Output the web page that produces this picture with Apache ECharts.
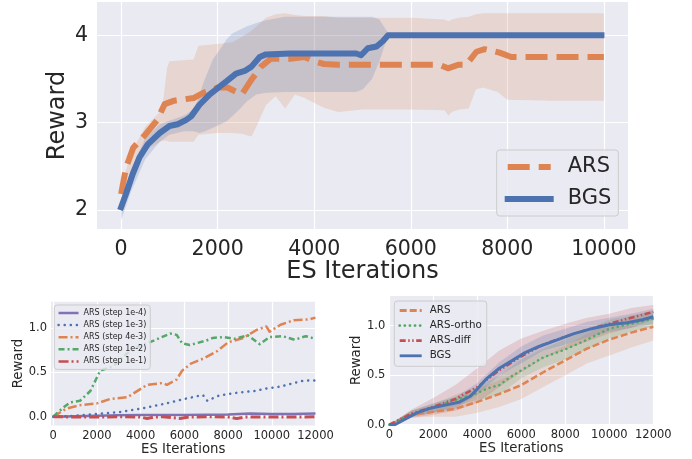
<!DOCTYPE html>
<html>
<head>
<meta charset="utf-8">
<script src="https://cdn.jsdelivr.net/npm/echarts@6/dist/echarts.min.js"></script>
<style>html,body{margin:0;padding:0;background:#fff;}#c{width:692px;height:459px;}</style>
</head>
<body>
<div id="c"></div>
<script>
// ---------- Top chart data ----------
const topXTicks = [0, 2000, 4000, 6000, 8000, 10000];
const topYTicks = [2, 3, 4];
const bgsX = [0,100,240,380,550,800,1000,1170,1350,1450,1620,1830,2040,2180,2380,2560,2700,2870,3000,3500,4000,4500,4870,4970,5110,5290,5420,5530,6000,8000,9950];
const bgsY = [2.03,2.18,2.41,2.60,2.75,2.88,2.96,2.98,3.03,3.07,3.20,3.32,3.41,3.47,3.56,3.59,3.64,3.75,3.78,3.79,3.79,3.79,3.79,3.77,3.85,3.87,3.93,4.00,4.00,4.00,4.00];
const arsX = [0,100,250,500,750,900,1100,1500,1700,2000,2200,2350,2500,2700,2900,3100,3500,3800,4000,4200,4500,5000,6000,6600,6770,6980,7150,7360,7530,7840,8080,9000,10000];
const arsY = [2.18,2.48,2.71,2.86,3.03,3.21,3.25,3.28,3.34,3.40,3.40,3.36,3.32,3.49,3.64,3.73,3.73,3.75,3.70,3.67,3.66,3.66,3.66,3.66,3.62,3.66,3.66,3.81,3.84,3.80,3.75,3.75,3.75];
const arsBandX = [0,200,500,850,950,1000,1500,1600,2000,2300,2500,2700,2800,3000,3200,3400,3600,3800,4200,4500,5000,5500,6000,6700,6780,6850,7000,7200,7350,7500,7800,8000,9000,10000];
const arsLow = [2.10,2.35,2.68,2.79,2.79,2.78,2.78,2.86,2.88,2.88,2.87,2.84,2.95,3.20,3.30,3.16,3.32,3.28,3.17,3.12,3.15,3.15,3.15,3.14,3.08,3.12,3.15,3.16,3.38,3.40,3.35,3.26,3.25,3.25];
const arsHigh = [2.25,2.65,2.95,3.15,3.62,3.70,3.72,3.88,3.90,3.92,3.98,4.05,4.10,4.20,4.24,4.25,4.23,4.22,4.22,4.20,4.20,4.20,4.20,4.18,4.16,4.18,4.20,4.21,4.24,4.25,4.25,4.25,4.25,4.25];
const bgsBandX = [0,200,500,800,1000,1300,1500,1620,1700,1900,2100,2180,2300,2450,2600,2800,3000,3400,4000,4870,5010,5200,5350,5500,5600,9950];
const bgsLow = [1.88,2.20,2.58,2.78,2.86,2.90,2.90,2.88,2.89,2.94,2.99,3.01,3.07,3.15,3.24,3.32,3.34,3.35,3.35,3.35,3.38,3.50,3.70,3.95,4.00,4.00];
const bgsHigh = [2.12,2.45,2.82,2.98,3.02,3.08,3.15,3.30,3.45,3.72,3.88,3.95,4.02,4.06,4.10,4.14,4.17,4.21,4.21,4.21,4.21,4.21,4.18,4.05,4.00,4.00];

// ---------- Bottom-left data ----------
const blXTicks = [0, 2000, 4000, 6000, 8000, 10000, 12000];
const blYTicks = [0, 0.5, 1.0];
const s1e4X = [0,1000,2000,3000,4000,5000,6000,7000,8000,9000,10000,11000,12000];
const s1e4Y = [0,0.005,0.01,0.015,0.02,0.02,0.02,0.022,0.025,0.035,0.03,0.03,0.035];
const s1e3X = [0,1000,2000,3000,4000,5000,6000,6850,7050,7600,8400,9200,9800,10400,11000,11500,12000];
const s1e3Y = [0,0.01,0.03,0.05,0.09,0.14,0.20,0.245,0.18,0.24,0.27,0.29,0.32,0.34,0.38,0.41,0.41];
const s4e3X = [0,600,1200,2000,2600,3400,4300,5000,5200,5650,5900,6300,6900,7500,8000,8700,9300,9750,9900,10400,11000,11700,12000];
const s4e3Y = [0,0.09,0.13,0.15,0.20,0.22,0.36,0.38,0.36,0.42,0.52,0.60,0.66,0.74,0.84,0.89,0.98,1.02,0.96,1.04,1.09,1.10,1.12];
const s1e2X = [0,450,770,1230,1700,2150,2750,3350,3950,4600,5350,5650,5900,6250,7000,7300,7800,8300,8900,9450,9900,10500,11050,11550,12000];
const s1e2Y = [0,0.10,0.16,0.18,0.29,0.52,0.57,0.71,0.80,0.86,0.94,0.925,0.83,0.81,0.86,0.89,0.90,0.88,0.92,0.82,0.90,0.91,0.87,0.91,0.88];
const s1e1X = [0,1000,2000,3000,4000,4300,4600,5000,5800,6200,7000,8000,8400,8800,9500,10500,11500,12000];
const s1e1Y = [0,-0.005,-0.005,0,-0.005,-0.02,-0.005,0,-0.02,-0.005,0,-0.005,-0.02,-0.005,-0.005,-0.005,-0.005,0];

// ---------- Bottom-right data ----------
const brXTicks = [0, 2000, 4000, 6000, 8000, 10000, 12000];
const brYTicks = [0, 0.5, 1.0];
const brX = [0,1000,2000,3000,4000,5000,6000,7000,8000,9000,10000,11000,12000];
const rArsY = [0,0.10,0.13,0.16,0.23,0.31,0.40,0.53,0.65,0.77,0.86,0.93,0.99];
const rArsLow = [0,0.07,0.08,0.08,0.12,0.18,0.26,0.38,0.50,0.62,0.70,0.78,0.85];
const rArsHigh = [0,0.14,0.20,0.27,0.36,0.45,0.55,0.68,0.80,0.92,1.02,1.10,1.15];
const orthoX = [0,1000,2000,3000,4000,4500,5000,5500,6000,7000,8000,9000,10000,11000,12000];
const orthoY = [0,0.11,0.17,0.25,0.32,0.37,0.40,0.48,0.55,0.68,0.76,0.86,0.97,1.02,1.07];
const orthoLow = [0,0.08,0.12,0.19,0.25,0.30,0.47,0.58,0.66,0.76,0.87,0.94,0.99];
const orthoHigh = [0,0.14,0.21,0.30,0.38,0.50,0.66,0.77,0.86,0.96,1.06,1.10,1.15];
const diffY = [0,0.11,0.18,0.26,0.38,0.55,0.69,0.81,0.89,0.96,1.02,1.08,1.14];
const diffLow = [0,0.07,0.10,0.14,0.22,0.38,0.53,0.67,0.76,0.84,0.92,0.98,1.06];
const diffHigh = [0,0.15,0.27,0.40,0.57,0.75,0.87,0.95,1.02,1.08,1.12,1.18,1.21];
const rBgsX = [0,250,1250,1850,2600,3200,3700,4000,4400,5000,5600,6100,6800,7600,8400,9200,10000,10800,11500,12000];
const rBgsY = [0,0.0,0.12,0.165,0.20,0.23,0.29,0.36,0.46,0.57,0.65,0.72,0.79,0.855,0.92,0.97,1.01,1.03,1.06,1.09];
const rBgsLow = [0,0.08,0.12,0.16,0.30,0.50,0.62,0.75,0.81,0.88,0.94,0.98,1.02];
const rBgsHigh = [0,0.14,0.22,0.28,0.42,0.63,0.79,0.90,0.97,1.04,1.08,1.12,1.17];

// ---------- helpers ----------
const C = {blue:'#4C72B0', orange:'#DD8452', green:'#55A868', red:'#C44E52', purple:'#8172B3'};
const TXT = '#262626';
const FONT = 'DejaVu Sans';
const pairs = (xs, ys) => xs.map((x, i) => [x, ys[i]]);

function band(idx, xs, lo, hi, color, alpha) {
  return {
    type: 'custom', xAxisIndex: idx, yAxisIndex: idx, silent: true, clip: true, z: 1,
    data: [[xs[0], lo[0]]],
    renderItem: function (params, api) {
      const pts = [];
      for (let i = 0; i < xs.length; i++) pts.push(api.coord([xs[i], hi[i]]));
      for (let i = xs.length - 1; i >= 0; i--) pts.push(api.coord([xs[i], lo[i]]));
      return {type: 'polygon', shape: {points: pts}, style: {fill: color, opacity: alpha}};
    }
  };
}
function line(idx, name, xs, ys, color, width, type, cap) {
  return {
    type: 'line', name: name, xAxisIndex: idx, yAxisIndex: idx, data: pairs(xs, ys),
    symbol: 'none', showSymbol: false, z: 3, silent: true, animation: false,
    lineStyle: {color: color, width: width, type: type || 'solid', cap: cap || 'butt', join: 'round'},
    itemStyle: {color: color}
  };
}
function xAx(idx, min, max, ticks, fs, margin, nameFs, nameGap) {
  return {
    type: 'value', gridIndex: idx, min: min, max: max,
    name: 'ES Iterations', nameLocation: 'middle', nameGap: nameGap, nameMoveOverlap: false,
    nameTextStyle: {fontSize: nameFs, color: TXT, fontFamily: FONT},
    axisLine: {show: false}, axisTick: {show: false, customValues: ticks},
    axisLabel: {customValues: ticks, fontSize: fs, color: TXT, fontFamily: FONT, margin: margin, lineHeight: fs,
                formatter: v => String(v)},
    splitLine: {show: true, lineStyle: {color: '#ffffff', width: 1.2}}
  };
}
function yAx(idx, min, max, ticks, fs, margin, nameFs, nameGap, fmt) {
  return {
    type: 'value', gridIndex: idx, min: min, max: max,
    name: 'Reward', nameLocation: 'middle', nameGap: nameGap, nameMoveOverlap: false,
    nameTextStyle: {fontSize: nameFs, color: TXT, fontFamily: FONT},
    axisLine: {show: false}, axisTick: {show: false, customValues: ticks},
    axisLabel: {customValues: ticks, fontSize: fs, color: TXT, fontFamily: FONT, margin: margin, formatter: fmt},
    splitLine: {show: true, lineStyle: {color: '#ffffff', width: 1.2}}
  };
}
const gridBase = {show: true, backgroundColor: '#EAEAF2', borderWidth: 0, containLabel: false};
const legendBase = {
  orient: 'vertical', backgroundColor: 'rgba(234,234,242,0.8)', borderColor: '#cccccc',
  borderWidth: 1, borderRadius: 3, selectedMode: false, align: 'left',
  itemStyle: {opacity: 0, borderWidth: 0}
};

const chart = echarts.init(document.getElementById('c'), null, {renderer: 'canvas'});
chart.setOption({
  animation: false,
  textStyle: {fontFamily: FONT},
  grid: [
    Object.assign({left: 97, top: 2, width: 531, height: 227}, gridBase),
    Object.assign({left: 51, top: 301.7, width: 264.5, height: 123.8}, gridBase),
    Object.assign({left: 389.3, top: 296, width: 264, height: 128.7}, gridBase)
  ],
  xAxis: [
    xAx(0, -500, 10500, topXTicks, 20.5, 10, 24, 31),
    xAx(1, -100, 12000, blXTicks, 11.5, 5, 13.3, 17.5),
    xAx(2, 0, 12000, brXTicks, 11.5, 5, 13.3, 17.5)
  ],
  yAxis: [
    yAx(0, 1.78, 4.38, topYTicks, 20.5, 9, 24, 27.5, v => String(v)),
    yAx(1, -0.1, 1.3, blYTicks, 11.5, 4, 13.3, 25.5, v => v.toFixed(1)),
    yAx(2, 0, 1.3, brYTicks, 11.5, 4, 13.3, 26, v => v.toFixed(1))
  ],
  legend: [
    Object.assign({}, legendBase, {
      left: 496.7, top: 150, padding: [5, 7, 5, 8], itemWidth: 43, itemHeight: 14, itemGap: 8,
      data: ['ARS', 'BGS'],
      lineStyle: {width: 6},
      textStyle: {fontSize: 21, color: TXT, fontFamily: FONT, lineHeight: 24, padding: [0, 0, 0, 12]}
    }),
    Object.assign({}, legendBase, {
      left: 54.3, top: 305, padding: [2, 4, 2, 3], itemWidth: 20, itemHeight: 6, itemGap: 0.1,
      data: ['ARS (step 1e-4)', 'ARS (step 1e-3)', 'ARS (step 4e-3)', 'ARS (step 1e-2)', 'ARS (step 1e-1)'],
      lineStyle: {width: 2.5},
      textStyle: {fontSize: 8, color: TXT, fontFamily: FONT, lineHeight: 12}
    }),
    Object.assign({}, legendBase, {
      left: 394.3, top: 301, padding: [2, 5, 3, 4], itemWidth: 22, itemHeight: 8, itemGap: 0.1,
      data: ['ARS ', 'ARS-ortho', 'ARS-diff', 'BGS '],
      lineStyle: {width: 2.8},
      formatter: n => n.trim(),
      textStyle: {fontSize: 10.3, color: TXT, fontFamily: FONT, lineHeight: 15, padding: [0, 0, 0, 3]}
    })
  ],
  series: [
    // top
    band(0, arsBandX, arsLow, arsHigh, C.orange, 0.2),
    band(0, bgsBandX, bgsLow, bgsHigh, C.blue, 0.2),
    line(0, 'ARS', arsX, arsY, C.orange, 6, [22, 9], 'butt'),
    line(0, 'BGS', bgsX, bgsY, C.blue, 6, 'solid', 'square'),
    // bottom-left
    line(1, 'ARS (step 1e-4)', s1e4X, s1e4Y, C.purple, 2.5, 'solid', 'butt'),
    line(1, 'ARS (step 1e-3)', s1e3X, s1e3Y, C.blue, 2.5, [0.1, 6], 'round'),
    line(1, 'ARS (step 4e-3)', s4e3X, s4e3Y, C.orange, 2.5, [9, 3, 2, 3], 'butt'),
    line(1, 'ARS (step 1e-2)', s1e2X, s1e2Y, C.green, 2.5, [6, 3, 2, 3], 'butt'),
    line(1, 'ARS (step 1e-1)', s1e1X, s1e1Y, C.red, 3, [10, 3, 2, 3], 'butt'),
    // bottom-right
    band(2, brX, rArsLow, rArsHigh, C.orange, 0.2),
    band(2, brX, orthoLow, orthoHigh, C.green, 0.2),
    band(2, brX, diffLow, diffHigh, C.red, 0.2),
    band(2, brX, rBgsLow, rBgsHigh, C.blue, 0.2),
    line(2, 'ARS ', brX, rArsY, C.orange, 2.5, [7, 3], 'butt'),
    line(2, 'ARS-ortho', orthoX, orthoY, C.green, 2.5, [0.1, 5], 'round'),
    line(2, 'ARS-diff', brX, diffY, C.red, 2.5, [6, 2.5, 1.5, 2.5, 1.5, 2.5], 'butt'),
    line(2, 'BGS ', rBgsX, rBgsY, C.blue, 3, 'solid', 'butt')
  ]
});
</script>
</body>
</html>
